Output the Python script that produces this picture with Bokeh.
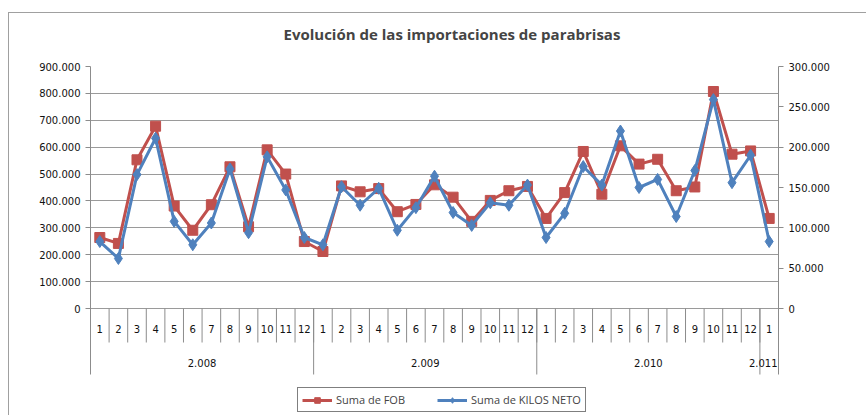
import numpy as np
from bokeh.plotting import figure
from bokeh.models import (Range1d, LinearAxis, FixedTicker, Legend, LegendItem, Grid,
                          ColumnDataSource, LabelSet, Title)
from bokeh.core.properties import value
from bokeh.embed import file_html
from bokeh.resources import INLINE

# ---------------- data ----------------
year_names = ["2.008", "2.009", "2.010", "2.011"]
year_counts = [12, 12, 12, 1]
months = [str(m) for m in range(1, 13)] * 3 + ["1"]

fob = [264000, 242000, 553000, 678000, 381000, 291000, 386000, 527000, 304000, 590000, 500000, 249000,
       212000, 456000, 434000, 446000, 360000, 387000, 460000, 414000, 324000, 402000, 438000, 454000,
       335000, 431000, 584000, 425000, 605000, 537000, 555000, 438000, 452000, 807000, 574000, 586000,
       335000]
kilos = [83000, 62000, 166000, 211000, 108000, 79000, 106000, 173000, 94000, 188000, 147000, 88000,
         79000, 151000, 128000, 149000, 97000, 125000, 164000, 119000, 103000, 131000, 128000, 153000,
         88000, 118000, 176000, 153000, 220000, 150000, 160000, 114000, 171000, 259000, 156000, 190000,
         83000]

left_ticks = [0, 100000, 200000, 300000, 400000, 500000, 600000, 700000, 800000, 900000]
left_labels = ["0", "100.000", "200.000", "300.000", "400.000", "500.000", "600.000",
               "700.000", "800.000", "900.000"]
right_ticks = [0, 50000, 100000, 150000, 200000, 250000, 300000]
right_labels = ["0", "50.000", "100.000", "150.000", "200.000", "250.000", "300.000"]

# ---------------- layout ----------------
RED = "#C0504D"
BLUE = "#4F81BD"
GRAY = "#8c8c8c"
FRAME_W = 688
PLOT_H = 242           # pixel height of the value area (0 .. max)
FRAME_H = 347          # frame extends below to hold the category table + legend
LEFT = 81
TOP = 53

n = len(months)
idx = list(range(n))
lmax = left_ticks[-1]
rmax = right_ticks[-1]
px_l = lmax / PLOT_H
px_r = rmax / PLOT_H

p = figure(frame_width=FRAME_W, frame_height=FRAME_H,
           x_range=Range1d(-0.5, n - 0.5),
           y_range=Range1d(-(FRAME_H - PLOT_H) * px_l, lmax),
           output_backend="svg", toolbar_location=None,
           x_axis_location=None, y_axis_location=None,
           min_border_left=LEFT, min_border_right=857 - LEFT - FRAME_W,
           min_border_top=TOP, min_border_bottom=2)
p.extra_y_ranges = {"right": Range1d(-(FRAME_H - PLOT_H) * px_r, rmax)}
p.outline_line_color = None
p.background_fill_color = "white"
p.border_fill_color = "white"
p.xgrid.visible = False
p.ygrid.visible = False
p.styles = {"border-top": "1px solid #a0a0a0", "border-left": "1px solid #a0a0a0",
            "margin-top": "12px", "margin-left": "8px"}

# title (with a small spacer between it and the plot area)
p.add_layout(Title(text=" ", text_font_size="5px"), "above")
p.title.text = "Evolución de las importaciones de parabrisas"
p.title.align = "left"
p.title.text_font = "Open Sans"
p.title.text_font_style = "bold"
p.title.text_font_size = "15px"
p.title.offset = 193

# grid
grid = Grid(dimension=1, ticker=FixedTicker(ticks=left_ticks),
            grid_line_color="#9a9a9a", grid_line_width=1)
p.add_layout(grid)

# axes
sep_depth_year = 66
sep_depth_month = 34

lax = LinearAxis(ticker=FixedTicker(ticks=left_ticks),
                 major_label_overrides=dict(zip(left_ticks, left_labels)),
                 bounds=(-sep_depth_year * px_l, lmax))
rax = LinearAxis(ticker=FixedTicker(ticks=right_ticks), y_range_name="right",
                 major_label_overrides=dict(zip(right_ticks, right_labels)),
                 bounds=(-sep_depth_year * px_r, rmax))
for ax in (lax, rax):
    ax.axis_line_color = GRAY
    ax.major_tick_line_color = GRAY
    ax.major_tick_in = 0
    ax.major_tick_out = 5
    ax.minor_tick_line_color = None
    ax.major_label_text_font = "DejaVu Sans"
    ax.major_label_text_font_size = "10px"
    ax.major_label_text_color = "#111111"
    ax.major_label_standoff = 5
p.add_layout(lax, "left")
p.add_layout(rax, "right")

# category table below the plot
month_sep = [i - 0.5 for i in range(1, n)]
p.segment(x0=month_sep, y0=0, x1=month_sep, y1=-sep_depth_month * px_l,
          line_color=GRAY, line_width=1)
cum = np.cumsum(year_counts)
year_sep = [c - 0.5 for c in cum[:-1]]
p.segment(x0=year_sep, y0=0, x1=year_sep, y1=-sep_depth_year * px_l,
          line_color=GRAY, line_width=1)

month_src = ColumnDataSource(data=dict(x=idx, y=[-20 * px_l] * n, t=months))
p.add_layout(LabelSet(x="x", y="y", text="t", source=month_src, text_align="center",
                      text_baseline="middle", text_font=value("DejaVu Sans"),
                      text_font_size=value("10px"), text_color="#111111"))
starts = np.concatenate([[0], cum[:-1]])
year_x = [float(s + (c - 1) / 2) for s, c in zip(starts, year_counts)]
# last (single-month) group label is nudged so it is not clipped at the frame edge
year_dx = [0, 0, 0, -6]
year_src = ColumnDataSource(data=dict(x=year_x, y=[-54 * px_l] * len(year_names),
                                      t=year_names, dx=year_dx))
p.add_layout(LabelSet(x="x", y="y", text="t", source=year_src, x_offset="dx",
                      text_align="center", text_baseline="middle",
                      text_font=value("DejaVu Sans"),
                      text_font_size=value("10px"), text_color="#111111"))

# series
r1 = p.line(idx, fob, line_color=RED, line_width=3)
s1 = p.scatter(idx, fob, marker="square", size=10, fill_color=RED, line_color=RED)
r2 = p.line(idx, kilos, y_range_name="right", line_color=BLUE, line_width=3)
s2 = p.scatter(idx, kilos, y_range_name="right", marker="diamond", size=12,
               fill_color=BLUE, line_color=BLUE)

legend = Legend(items=[LegendItem(label="Suma de FOB", renderers=[r1, s1]),
                       LegendItem(label="Suma de KILOS NETO", renderers=[r2, s2])],
                location=(207, 1), orientation="horizontal",
                border_line_color="black", border_line_width=1,
                label_text_font="Open Sans", label_text_font_size="11px",
                glyph_width=30, glyph_height=14, label_height=14, label_standoff=4,
                spacing=32, padding=4, margin=0, background_fill_alpha=1)
p.add_layout(legend, "center")

open("out.html", "w").write(file_html(p, INLINE))
